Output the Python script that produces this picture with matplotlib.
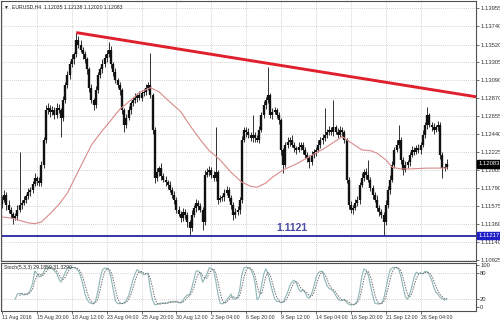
import numpy as np
import pandas as pd
import matplotlib
matplotlib.use("Agg")
import matplotlib.pyplot as plt
import matplotlib.transforms as mtransforms

plt.rcParams['font.family'] = ['Liberation Sans', 'DejaVu Sans']

# EURUSD H4 closes, in units of 0.0001 (11165 -> 1.1165)
close_pts = [
    11165, 11171, 11159, 11153, 11148, 11143, 11145, 11153, 11159, 11161,
    11165, 11169, 11174, 11177, 11184, 11191, 11188, 11185, 11207, 11237,
    11273, 11276, 11271, 11273, 11267, 11276, 11273, 11264, 11285, 11303,
    11315, 11328, 11334, 11340, 11358, 11352, 11346, 11340, 11334, 11322,
    11300, 11285, 11279, 11297, 11315, 11322, 11328, 11336, 11340, 11346,
    11328, 11319, 11309, 11303, 11297, 11273, 11255, 11264, 11273, 11281,
    11285, 11288, 11291, 11288, 11293, 11295, 11300, 11303, 11291, 11249,
    11191, 11198, 11203, 11194, 11189, 11186, 11183, 11177, 11171, 11165,
    11153, 11148, 11143, 11150, 11147, 11138, 11131, 11147, 11155, 11161,
    11157, 11153, 11138, 11195, 11198, 11201, 11195, 11191, 11198, 11165,
    11167, 11168, 11173, 11177, 11167, 11159, 11147, 11150, 11153, 11165,
    11237, 11249, 11246, 11243, 11239, 11243, 11239, 11237, 11249, 11267,
    11279, 11285, 11291, 11267, 11271, 11273, 11267, 11261, 11225, 11207,
    11231, 11235, 11237, 11231, 11227, 11225, 11229, 11231, 11225, 11219,
    11215, 11210, 11219, 11223, 11225, 11231, 11237, 11239, 11243, 11246,
    11249, 11247, 11252, 11247, 11243, 11249, 11246, 11237, 11189, 11159,
    11153, 11155, 11161, 11165, 11183, 11191, 11198, 11195, 11189, 11179,
    11171, 11165, 11155, 11150, 11147, 11138, 11159, 11177, 11189, 11207,
    11225, 11231, 11237, 11213, 11201, 11207, 11210, 11219, 11225, 11223,
    11227, 11225, 11231, 11243, 11255, 11267, 11255, 11252, 11249, 11252,
    11255, 11219, 11203, 11204, 11208,
]
first_open = 11160

# wick lengths above / below the body, pips
upper_wick = [
    4, 6, 3, 5, 3, 2, 4, 5, 64, 3,   4, 3, 5, 3, 4, 6, 3, 4, 5, 4,
    6, 5, 3, 5, 4, 6, 4, 3, 5, 4,    5, 4, 6, 3, 8, 4, 5, 3, 4, 3,
    3, 4, 3, 5, 4, 3, 6, 4, 5, 9,    4, 3, 5, 3, 4, 3, 2, 4, 5, 3,
    4, 6, 3, 5, 4, 3, 5, 4, 39, 3,   4, 5, 3, 6, 3, 4, 3, 5, 3, 4,
    3, 4, 3, 5, 4, 3, 2, 6, 4, 5,    3, 4, 3, 6, 5, 4, 3, 4, 54, 3,
    4, 3, 5, 4, 3, 4, 3, 5, 4, 3,    5, 4, 3, 5, 4, 24, 3, 4, 5, 4,
    5, 4, 34, 3, 5, 4, 3, 4, 3, 2,   4, 5, 3, 6, 4, 3, 5, 4, 3, 4,
    3, 4, 5, 3, 4, 6, 4, 5, 33, 4,   5, 4, 33, 3, 4, 5, 4, 3, 2, 3,
    4, 3, 5, 4, 3, 6, 4, 5, 18, 3,   4, 3, 5, 3, 4, 3, 5, 4, 6, 5,
    4, 6, 18, 3, 4, 5, 3, 4, 5, 3,   4, 5, 3, 6, 4, 10, 3, 4, 5, 3,
    5, 3, 4, 5, 6,
]
lower_wick = [
    5, 3, 6, 4, 5, 7, 3, 4, 3, 5,    3, 4, 3, 5, 4, 3, 5, 4, 3, 4,
    4, 5, 6, 4, 5, 3, 4, 23, 4, 3,   3, 4, 3, 5, 3, 4, 3, 5, 4, 6,
    5, 4, 6, 3, 4, 3, 4, 3, 5, 3,    4, 5, 3, 4, 6, 5, 9, 4, 3, 5,
    3, 4, 5, 3, 4, 3, 4, 3, 3, 5,    6, 3, 4, 5, 3, 4, 5, 3, 4, 5,
    4, 3, 5, 4, 5, 6, 10, 4, 3, 5,   4, 3, 10, 4, 3, 5, 4, 3, 4, 5,
    3, 4, 5, 3, 4, 5, 6, 4, 3, 5,    4, 3, 5, 4, 3, 5, 4, 3, 4, 3,
    4, 5, 3, 4, 5, 3, 4, 5, 6, 10,   3, 4, 5, 3, 4, 5, 3, 4, 5, 4,
    5, 7, 3, 4, 5, 3, 4, 5, 3, 4,    3, 4, 5, 3, 4, 3, 5, 4, 4, 5,
    4, 5, 3, 4, 5, 3, 4, 5, 3, 4,    5, 3, 4, 5, 4, 17, 3, 4, 5, 3,
    4, 3, 4, 5, 6, 3, 4, 5, 3, 4,    3, 4, 5, 3, 4, 5, 3, 4, 5, 3,
    4, 5, 12, 4, 2,
]

# moving average (bar index, price pts)
ma_bars = [0, 4, 8, 12, 15, 18, 22, 26, 30, 33, 37, 41, 45, 50, 54, 59, 63,
           68, 72, 76, 79, 82, 86, 91, 95, 100, 105, 110, 114, 117, 121, 124,
           129, 135, 141, 148, 156, 161, 165, 169, 172, 176, 179, 183, 187,
           195, 204]
ma_pts = [11144, 11143, 11140, 11137, 11136, 11138, 11148, 11159, 11173,
          11189, 11210, 11231, 11245, 11261, 11274, 11285, 11294, 11300,
          11295, 11285, 11278, 11271, 11255, 11237, 11224, 11213, 11198,
          11186, 11181, 11180, 11185, 11192, 11201, 11208, 11217, 11227,
          11241, 11232, 11225, 11224, 11221, 11213, 11204, 11202, 11202,
          11203, 11203]

price_ticks = [1.13955, 1.13740, 1.13520, 1.13305, 1.13090, 1.12870, 1.12655,
               1.12440, 1.12225, 1.12005, 1.11790, 1.11575, 1.11360, 1.11140,
               1.10925]
date_labels = ["11 Aug 2016", "15 Aug 20:00", "18 Aug 12:00", "23 Aug 04:00",
               "25 Aug 20:00", "30 Aug 12:00", "2 Sep 04:00", "6 Sep 20:00",
               "9 Sep 12:00", "14 Sep 04:00", "16 Sep 20:00", "21 Sep 12:00",
               "26 Sep 04:00"]
date_step = 16

trend_bars = [34, 217.5]
trend_prices = [1.13664, 1.12890]
support = 1.11217
last_price = 1.12083

# ---- build OHLC
c = np.array(close_pts) / 10000.0
o = np.r_[first_open / 10000.0, c[:-1]]
top = np.maximum(o, c)
bot = np.minimum(o, c)
hi = top + np.array(upper_wick) / 10000.0
lo = bot - np.array(lower_wick) / 10000.0
x = np.arange(len(c))

# Stochastic 5,3,3
df = pd.DataFrame({'h': hi, 'l': lo, 'c': c})
ll = df['l'].rolling(5).min()
hh = df['h'].rolling(5).max()
k = 100 * (df['c'] - ll).rolling(3).sum() / (hh - ll).rolling(3).sum()
d = k.rolling(3).mean()

W, H = 500, 324
fig = plt.figure(figsize=(W / 100, H / 100), dpi=100)
fig.patch.set_facecolor('white')
ax = fig.add_axes([1 / W, 1 - 261 / H, 475 / W, 260 / H])
ax2 = fig.add_axes([1 / W, 1 - 311 / H, 475 / W, 48 / H])

grid_kw = dict(color='#c4c4c4', linestyle=(0, (1, 1.5)), linewidth=0.6)
xlim = (-0.5, 217.4)

# main pane
ax.set_xlim(*xlim)
ax.set_ylim(1.1091, 1.14045)
ax.set_yticks(price_ticks)
ax.set_yticklabels([f"{p:.5f}" for p in price_ticks])
ax.yaxis.tick_right()
ax.set_xticks(np.arange(0, len(c), date_step))
ax.set_xticklabels([])
ax.tick_params(axis='x', length=0)
ax.tick_params(axis='y', labelsize=4.2, length=2, pad=1, colors='#333333',
               width=0.5)
ax.grid(True, **grid_kw)
ax.set_axisbelow(True)

ax.vlines(x, lo, hi, color='#111111', linewidth=0.6)
body_top = np.maximum(top, bot + 0.00008)
ax.vlines(x, bot, body_top, color='#111111', linewidth=1.7)

ax.plot(ma_bars, np.array(ma_pts) / 10000.0, color='#d98a8a', linewidth=0.8)
ax.plot(trend_bars, trend_prices, color='#e0202c', linewidth=2.1,
        solid_capstyle='butt')
ax.axhline(support, color='#3535a5', linewidth=1.4)
ax.text(133, 1.1131, "1.1121", color='#4a4aa8', fontsize=7.5,
        fontweight='bold', ha='center', va='center')

ax.text(0.004, 0.985, "\u25bc", transform=ax.transAxes, fontsize=3.5,
        va='top', ha='left', color='#222222')
ax.text(0.024, 0.988, "EURUSD,H4  1.12035 1.12138 1.12020 1.12083",
        transform=ax.transAxes, fontsize=3.7, va='top', ha='left',
        color='#222222')

trans = mtransforms.blended_transform_factory(ax.transAxes, ax.transData)
ax.text(1.006, last_price, f"{last_price:.5f}", transform=trans, fontsize=4.2,
        color='white', va='center', ha='left',
        bbox=dict(boxstyle='square,pad=0.25', fc='black', ec='black'))
ax.text(1.006, support, f"{support:.5f}", transform=trans, fontsize=4.2,
        color='white', va='center', ha='left',
        bbox=dict(boxstyle='square,pad=0.25', fc='#1f1fc8', ec='#1f1fc8'))

# stochastic pane
ax2.set_xlim(*xlim)
ax2.set_ylim(-9.5, 104.8)
ax2.set_yticks([0, 20, 80, 100])
ax2.yaxis.tick_right()
ax2.tick_params(axis='y', labelsize=4.2, length=2, pad=1, colors='#333333',
                width=0.5)
ax2.set_xticks(np.arange(0, len(c), date_step))
ax2.set_xticklabels(date_labels, ha='left')
ax2.tick_params(axis='x', labelsize=3.8, length=2, pad=1, colors='#333333',
                width=0.5)
ax2.grid(True, axis='x', **grid_kw)
ax2.axhline(20, **grid_kw)
ax2.axhline(80, **grid_kw)
ax2.plot(x, k, color='#8fb6b6', linewidth=0.8)
ax2.plot(x, d, color='#6e6e6e', linewidth=0.7, linestyle=(0, (1.5, 1.2)))
ax2.text(0.006, 0.96, "Stoch(5,3,3) 29.1859 31.3290", transform=ax2.transAxes,
         fontsize=3.7, va='top', ha='left', color='#222222')

for a in (ax, ax2):
    for s in a.spines.values():
        s.set_color('#505050')
        s.set_linewidth(0.8)

fig.savefig('out.png', dpi=100)
